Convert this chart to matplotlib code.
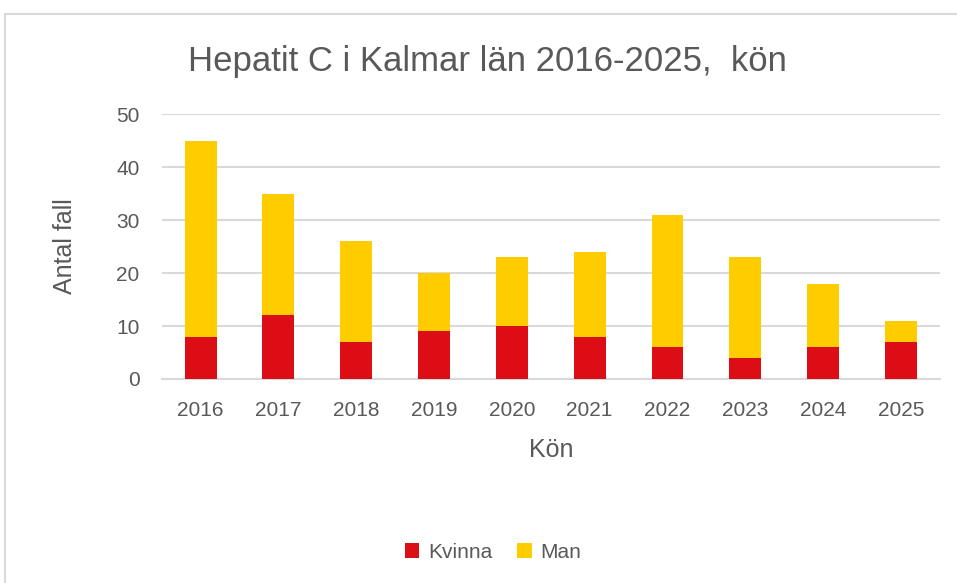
import matplotlib.pyplot as plt
from matplotlib.patches import Rectangle

years = ["2016", "2017", "2018", "2019", "2020", "2021", "2022", "2023", "2024", "2025"]
kvinna = [8, 12, 7, 9, 10, 8, 6, 4, 6, 7]
man = [37, 23, 19, 11, 13, 16, 25, 19, 12, 4]

plt.rcParams["font.family"] = ["Liberation Sans", "DejaVu Sans"]

fig = plt.figure(figsize=(9.57, 5.83), dpi=100)
ax = fig.add_axes([0.169, 0.350, 0.813, 0.454])

# chart frame
fig.patches.append(Rectangle((5 / 957, -0.01), 1.0, 1 - 14 / 583 + 0.01,
                             transform=fig.transFigure, fill=False,
                             edgecolor="#d9d9d9", linewidth=1.5))

x = range(len(years))
ax.bar(x, kvinna, width=0.41, color="#dc0d15", label="Kvinna", zorder=3)
ax.bar(x, man, width=0.41, bottom=kvinna, color="#ffcc00", label="Man", zorder=3)

ax.set_xlim(-0.5, len(years) - 0.5)
ax.set_ylim(0, 50)
ax.set_yticks(range(0, 51, 10))
ax.set_xticks(list(x))
ax.set_xticklabels(years)
ax.grid(axis="y", color="#d9d9d9", linewidth=1.5, zorder=0)
for s in ["top", "right", "left"]:
    ax.spines[s].set_visible(False)
ax.spines["bottom"].set_color("#d9d9d9")
ax.spines["bottom"].set_linewidth(1.5)
ax.tick_params(length=0, labelsize=15, colors="#595959")
ax.tick_params(axis="x", pad=16)
ax.tick_params(axis="y", pad=16)

ax.set_xlabel("Kön", fontsize=18, color="#595959", labelpad=13)
ax.set_ylabel("Antal fall", fontsize=18, color="#595959", labelpad=28)
fig.text(0.509, 0.894, "Hepatit C i Kalmar län 2016-2025,  kön",
         fontsize=25, color="#595959", ha="center", va="center")

fig.legend(loc="center", bbox_to_anchor=(0.515, 0.053), ncol=2, frameon=False,
           fontsize=15, handlelength=0.7, handleheight=0.7, columnspacing=1.2,
           handletextpad=0.4, labelcolor="#595959")

fig.savefig("out.png", dpi=100)
